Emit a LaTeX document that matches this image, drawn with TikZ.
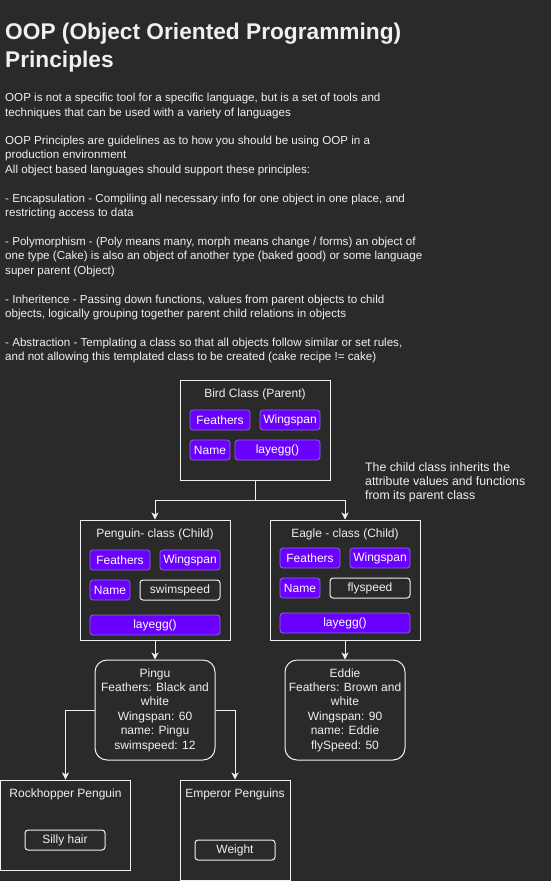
\documentclass[tikz,border=0pt]{standalone}
\usepackage{fontspec}
\setmainfont{Liberation Sans}
\usepackage{xcolor}
\usetikzlibrary{positioning,calc,arrows.meta}
\definecolor{bgdark}{HTML}{2A2A2A}
\definecolor{linegrey}{HTML}{F0F0F0}
\definecolor{chipfill}{HTML}{6A00FF}
\definecolor{chipdraw}{HTML}{8A6AD8}

\begin{document}
\begin{tikzpicture}[x=1pt,y=-1pt,
		classbox/.style={draw=linegrey,line width=1pt,inner sep=0pt},
		objbox/.style={draw=linegrey,line width=1pt,rounded corners=12pt,inner sep=0pt,text=linegrey,align=center,font=\fontsize{12}{14.4}\selectfont},
		chip/.style={draw=chipdraw,fill=chipfill,line width=0.8pt,rounded corners=3pt,text=white,inner sep=0pt,minimum height=20pt,font=\fontsize{12}{14}\selectfont},
		outchip/.style={draw=linegrey,line width=1pt,rounded corners=3pt,text=linegrey,inner sep=0pt,minimum height=20pt,font=\fontsize{12}{14}\selectfont},
		boxtitle/.style={text=linegrey,anchor=base,inner sep=0pt,font=\fontsize{12}{14}\selectfont},
		para/.style={text=linegrey,align=left,anchor=base west,inner sep=0pt,font=\fontsize{11.6}{14.4}\selectfont},
		arr/.style={draw=linegrey,line width=1pt,-{Stealth[length=7pt,width=7pt,inset=2pt]}}]
		\useasboundingbox (0,0) rectangle (551,881);
		\fill[bgdark] (0,0) rectangle (551,881);
		
		% heading and notes (base = last line)
		\node[text=linegrey,align=left,anchor=base west,inner sep=0pt,font=\fontsize{22.7}{28.4}\selectfont\bfseries] (heading) at (5,67.7) {OOP (Object Oriented Programming)\\Principles};
		\node[para] (p1) at (5,116.1) {OOP is not a specific tool for a specific language, but is a set of tools and\\techniques that can be used with a variety of languages};
		\node[para] (p2) at (5,173.1) {OOP Principles are guidelines as to how you should be using OOP in a\\production environment\\All object based languages should support these principles:};
		\node[para] (p3) at (5,216.4) {- Encapsulation - Compiling all necessary info for one object in one place, and\\restricting access to data};
		\node[para] (p4) at (5,274.1) {- Polymorphism - (Poly means many, morph means change / forms) an object of\\one type (Cake) is also an object of another type (baked good) or some language\\super parent (Object)};
		\node[para] (p5) at (5,317.4) {- Inheritence - Passing down functions, values from parent objects to child\\objects, logically grouping together parent child relations in objects};
		\node[para] (p6) at (5,360.4) {- Abstraction - Templating a class so that all objects follow similar or set rules,\\and not allowing this templated class to be created (cake recipe != cake)};
		
		% parent class
		\node[classbox,minimum width=150pt,minimum height=100pt] (bird) at (255,430) {};
		\node[boxtitle,shift={(0,18)}] (birdt) at (bird.north) {Bird Class (Parent)};
		\node[chip,minimum width=60pt] (bfeat) at (220,420) {Feathers};
		\node[chip,minimum width=60pt] (bwing) at (290,420) {Wingspan};
		\node[chip,minimum width=40pt] (bname) at (210,450) {Name};
		\node[chip,minimum width=85pt] (blay) at (277.5,450) {layegg()};
		\node[para,font=\fontsize{12.3}{14.4}\selectfont] (inherit) at (365,499.8) {The child class inherits the\\attribute values and functions\\from its parent class};
		
		% child classes
		\node[classbox,minimum width=150pt,minimum height=120pt] (penguin) at (155,580) {};
		\node[boxtitle,shift={(0,18)}] (penguint) at (penguin.north) {Penguin- class (Child)};
		\node[chip,minimum width=60pt] (pfeat) at (120,560) {Feathers};
		\node[chip,minimum width=60pt] (pwing) at (190,560) {Wingspan};
		\node[chip,minimum width=40pt] (pname) at (110,590) {Name};
		\node[outchip,minimum width=80pt] (pswim) at (180,590) {swimspeed};
		\node[chip,minimum width=130pt] (play) at (155,625) {layegg()};
		
		\node[classbox,minimum width=150pt,minimum height=120pt] (eagle) at (345,580) {};
		\node[boxtitle,shift={(0,18)}] (eaglet) at (eagle.north) {Eagle - class (Child)};
		\node[chip,minimum width=60pt] (efeat) at (310,558) {Feathers};
		\node[chip,minimum width=60pt] (ewing) at (380,558) {Wingspan};
		\node[chip,minimum width=40pt] (ename) at (300,588) {Name};
		\node[outchip,minimum width=80pt] (efly) at (370,588) {flyspeed};
		\node[chip,minimum width=130pt] (elay) at (345,623) {layegg()};
		
		\draw[arr] (bird.south)--++(0,20)-|(penguin.north);
		\draw[arr] (bird.south)--++(0,20)-|(eagle.north);
		
		% objects
		\node[objbox,minimum width=120pt,minimum height=100pt] (pingu) at (155,710) {Pingu\\Feathers: Black and\\white\\Wingspan: 60\\name: Pingu\\swimspeed: 12};
		\node[objbox,minimum width=120pt,minimum height=100pt] (eddie) at (345,710) {Eddie\\Feathers: Brown and\\white\\Wingspan: 90\\name: Eddie\\flySpeed: 50};
		\draw[arr] (penguin.south)--(pingu.north);
		\draw[arr] (eagle.south)--(eddie.north);
		
		% penguin kinds
		\node[classbox,minimum width=130pt,minimum height=90pt] (rock) at (65.5,825) {};
		\node[boxtitle,shift={(0,18)}] (rockt) at (rock.north) {Rockhopper Penguin};
		\node[outchip,minimum width=80pt] (hair) at (65,840) {Silly hair};
		\node[classbox,minimum width=110pt,minimum height=100pt] (emperor) at (235,830) {};
		\node[boxtitle,shift={(0,18)}] (emperort) at (emperor.north) {Emperor Penguins};
		\node[outchip,minimum width=80pt] (weight) at (235,850) {Weight};
		\draw[arr] (pingu.west)-|(rock.north);
		\draw[arr] (pingu.east)-|(emperor.north);
	\end{tikzpicture}
\end{document}
